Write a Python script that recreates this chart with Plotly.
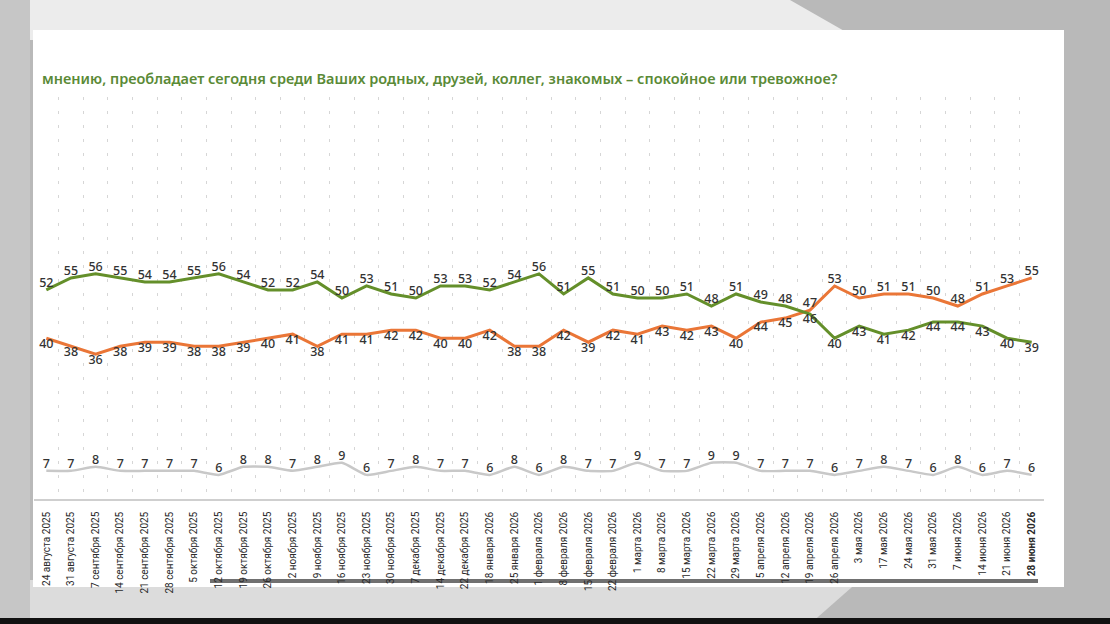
import plotly.graph_objects as go

# survey weeks (x axis)
dates = [
    "24 августа 2025", "31 августа 2025", "7 сентября 2025", "14 сентября 2025",
    "21 сентября 2025", "28 сентября 2025", "5 октября 2025", "12 октября 2025",
    "19 октября 2025", "26 октября 2025", "2 ноября 2025", "9 ноября 2025",
    "16 ноября 2025", "23 ноября 2025", "30 ноября 2025", "7 декабря 2025",
    "14 декабря 2025", "22 декабря 2025", "18 января 2026", "25 января 2026",
    "1 февраля 2026", "8 февраля 2026", "15 февраля 2026", "22 февраля 2026",
    "1 марта 2026", "8 марта 2026", "15 марта 2026", "22 марта 2026",
    "29 марта 2026", "5 апреля 2026", "12 апреля 2026", "19 апреля 2026",
    "26 апреля 2026", "3 мая 2026", "17 мая 2026", "24 мая 2026",
    "31 мая 2026", "7 июня 2026", "14 июня 2026", "21 июня 2026",
    "28 июня 2026",
]

# спокойное
calm = [52, 55, 56, 55, 54, 54, 55, 56, 54, 52, 52, 54, 50, 53, 51, 50, 53, 53,
        52, 54, 56, 51, 55, 51, 50, 50, 51, 48, 51, 49, 48, 46, 40, 43, 41, 42,
        44, 44, 43, 40, 39]
# тревожное
anxious = [40, 38, 36, 38, 39, 39, 38, 38, 39, 40, 41, 38, 41, 41, 42, 42, 40, 40,
           42, 38, 38, 42, 39, 42, 41, 43, 42, 43, 40, 44, 45, 47, 53, 50, 51, 51,
           50, 48, 51, 53, 55]
# затрудняюсь ответить
no_answer = [7, 7, 8, 7, 7, 7, 7, 6, 8, 8, 7, 8, 9, 6, 7, 8, 7, 7, 6, 8, 6, 8, 7,
             7, 9, 7, 7, 9, 9, 7, 7, 7, 6, 7, 8, 7, 6, 8, 6, 7, 6]

title_text = ("мнению, преобладает сегодня среди Ваших родных, друзей, коллег, "
              "знакомых – спокойное или тревожное?")

GREEN = "#648f2a"
ORANGE = "#ea7637"
GREY = "#c8c8c8"

# labels go above the upper line, below the lower one
calm_pos = ["top center" if c > a else "bottom center" for c, a in zip(calm, anxious)]
anx_pos = ["bottom center" if c > a else "top center" for c, a in zip(calm, anxious)]

label_font = dict(family="Noto Sans", size=12.5, color="#333333", weight=500)

fig = go.Figure()

fig.add_trace(go.Scatter(
    x=dates, y=no_answer, mode="lines+text", text=no_answer,
    textposition="top center", textfont=label_font,
    line=dict(color=GREY, width=2.5, shape="spline", smoothing=0.5),
    name="Затрудняюсь ответить",
))
fig.add_trace(go.Scatter(
    x=dates, y=anxious, mode="lines+text", text=anxious,
    textposition=anx_pos, textfont=label_font,
    line=dict(color=ORANGE, width=3), name="Тревожное",
))
fig.add_trace(go.Scatter(
    x=dates, y=calm, mode="lines+text", text=calm,
    textposition=calm_pos, textfont=label_font,
    line=dict(color=GREEN, width=3), name="Спокойное",
))

tick_text = dates[:-1] + ["<b>" + dates[-1] + "</b>"]

W, H = 1110, 624
L, R, T, B = 34, 66, 97, 125


def px(x):
    return (x - L) / (W - L - R)


def py(y):
    return (H - B - y) / (H - T - B)


shapes = [
    # light top band and diagonal highlights of the photographed screen
    dict(type="path", xref="paper", yref="paper", layer="below",
         path=f"M {px(0)},{py(0)} L {px(790)},{py(0)} L {px(860)},{py(40)} "
              f"L {px(0)},{py(40)} Z",
         fillcolor="#ececec", line=dict(width=0)),
    dict(type="path", xref="paper", yref="paper", layer="below",
         path=f"M {px(0)},{py(580)} L {px(860)},{py(580)} L {px(810)},{py(624)} "
              f"L {px(0)},{py(624)} Z",
         fillcolor="#dcdcdc", line=dict(width=0)),
    dict(type="path", xref="paper", yref="paper", layer="below",
         path=f"M {px(0)},{py(0)} L {px(30)},{py(0)} L {px(30)},{py(624)} "
              f"L {px(0)},{py(624)} Z",
         fillcolor="#c6c6c6", line=dict(width=0)),
    # white slide panel
    dict(type="rect", xref="paper", yref="paper", layer="below",
         x0=px(33), x1=px(1064), y0=py(587), y1=py(30),
         fillcolor="white", line=dict(width=0)),
    # dark shadow under the date labels
    dict(type="line", xref="paper", yref="paper", layer="below",
         x0=px(210), x1=px(1038), y0=py(581), y1=py(581),
         line=dict(color="#707070", width=4)),
    # black strip at the very bottom
    dict(type="rect", xref="paper", yref="paper", layer="below",
         x0=px(0), x1=px(1110), y0=py(618), y1=py(624),
         fillcolor="#111111", line=dict(width=0)),
]

fig.update_layout(
    width=W, height=H, autosize=False,
    margin=dict(l=L, r=R, t=T, b=B),
    paper_bgcolor="#b9b9b9",
    plot_bgcolor="rgba(0,0,0,0)",
    showlegend=False,
    shapes=shapes,
    annotations=[dict(
        text=title_text, xref="paper", yref="paper",
        x=px(40), y=py(78), xanchor="left", yanchor="middle",
        showarrow=False,
        font=dict(family="Noto Sans", size=14.5, color="#5a8a36", weight=600),
    )],
)

fig.update_xaxes(
    type="category", tickson="boundaries",
    tickvals=dates, ticktext=tick_text,
    tickangle=-90, ticks="", ticklabelstandoff=7,
    tickfont=dict(family="Roboto", size=10, color="#2a2a2a"),
    showgrid=True, gridcolor="#d6d6d6", gridwidth=1, griddash="3px,11px",
    showline=True, linecolor="#cfcfcf", linewidth=1.5,
    range=[-0.5, len(dates) - 0.5],
    zeroline=False,
)
fig.update_yaxes(
    range=[0, 100], showgrid=False, showticklabels=False,
    zeroline=False, showline=False,
)

# the page's default body margin would shift the figure by 8px
fig.write_html("out.html", config={"displayModeBar": False},
               post_script="document.body.style.margin='0px';")
